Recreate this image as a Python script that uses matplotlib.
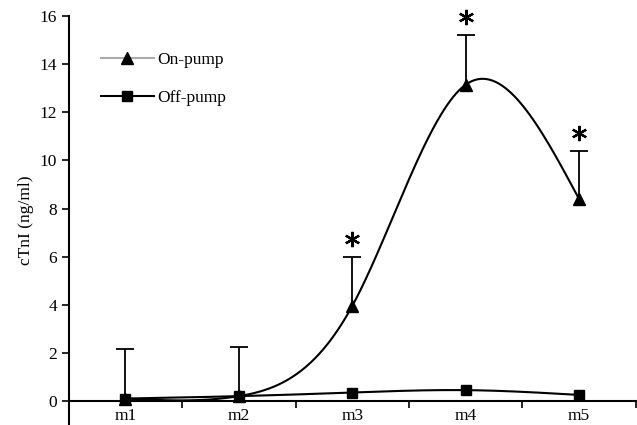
import numpy as np
import matplotlib
matplotlib.use('Agg')
import matplotlib.pyplot as plt
from matplotlib.lines import Line2D

categories = ['m1', 'm2', 'm3', 'm4', 'm5']
on_pump = [0.1, 0.2, 3.95, 13.15, 8.4]
on_pump_err = [2.05, 2.05, 2.05, 2.05, 2.0]
off_pump = [0.1, 0.2, 0.35, 0.45, 0.25]
significant = [False, False, True, True, True]


def natural_spline(x, y, xs):
    # natural cubic spline, done by hand (no scipy)
    x = np.asarray(x, float)
    y = np.asarray(y, float)
    n = len(x)
    h = np.diff(x)
    A = np.zeros((n, n))
    b = np.zeros(n)
    A[0, 0] = 1
    A[-1, -1] = 1
    for i in range(1, n - 1):
        A[i, i - 1] = h[i - 1]
        A[i, i] = 2 * (h[i - 1] + h[i])
        A[i, i + 1] = h[i]
        b[i] = 3 * ((y[i + 1] - y[i]) / h[i] - (y[i] - y[i - 1]) / h[i - 1])
    c = np.linalg.solve(A, b)
    out = np.zeros_like(xs)
    for k, xv in enumerate(xs):
        i = min(max(np.searchsorted(x, xv) - 1, 0), n - 2)
        dx = xv - x[i]
        bb = (y[i + 1] - y[i]) / h[i] - h[i] * (2 * c[i] + c[i + 1]) / 3
        dd = (c[i + 1] - c[i]) / (3 * h[i])
        out[k] = y[i] + bb * dx + c[i] * dx ** 2 + dd * dx ** 3
    return out


plt.rcParams['font.family'] = ['Liberation Serif', 'DejaVu Serif']
fs = 12.5

x = np.arange(1, len(categories) + 1)
xs = np.linspace(1, len(categories), 300)
top = np.array(on_pump) + np.array(on_pump_err)

fig = plt.figure(figsize=(6.37, 4.25), dpi=100)
ax = fig.add_axes([0.108, 0.0, 0.89, 0.962])

ax.plot(xs, natural_spline(x, on_pump, xs), color='black', lw=1.5)
ax.plot(xs, natural_spline(x, off_pump, xs), color='black', lw=1.5)

# upper-only error bars
ax.vlines(x, on_pump, top, color='black', lw=1.3)
ax.plot(x, top, '_', color='black', ms=13, mew=1.3, ls='none')

ax.plot(x, on_pump, '^', color='black', ms=9)
ax.plot(x, off_pump, 's', color='black', ms=7.5)

for xi, ti, sig in zip(x, top, significant):
    if sig:
        ax.plot(xi, ti + 0.75, marker=(6, 2, 0), color='black',
                ms=11, mew=1.6, clip_on=False)

handles = [Line2D([], [], color='#aaaaaa', lw=1.5, marker='^', ms=9,
                  markerfacecolor='black', markeredgecolor='black'),
           Line2D([], [], color='black', lw=1.5, marker='s', ms=7.5)]
ax.legend(handles, ['On-pump', 'Off-pump'], loc='upper left',
          bbox_to_anchor=(0.03, 0.95), frameon=False, fontsize=fs,
          handlelength=3.0, handletextpad=0.2, labelspacing=1.25)

ax.set_xlim(0.5, len(categories) + 0.5)
ax.set_ylim(-1, 16)
ax.set_yticks(range(0, 17, 2))
ax.set_xticks(x)
ax.set_xticklabels(categories)
ax.set_xticks(np.arange(1.5, len(categories) + 0.6, 1), minor=True)
ax.tick_params(axis='x', which='major', length=0, labelsize=fs, pad=5)
ax.tick_params(axis='x', which='minor', length=5, width=1.2, direction='out')
ax.tick_params(axis='y', length=5, width=1.2, labelsize=fs)

ax.spines['top'].set_visible(False)
ax.spines['right'].set_visible(False)
ax.spines['bottom'].set_position(('data', 0))
ax.spines['left'].set_linewidth(1.5)
ax.spines['bottom'].set_linewidth(1.5)

ax.set_ylabel('cTnI (ng/ml)', fontsize=fs)

fig.savefig('out.png', dpi=100)
